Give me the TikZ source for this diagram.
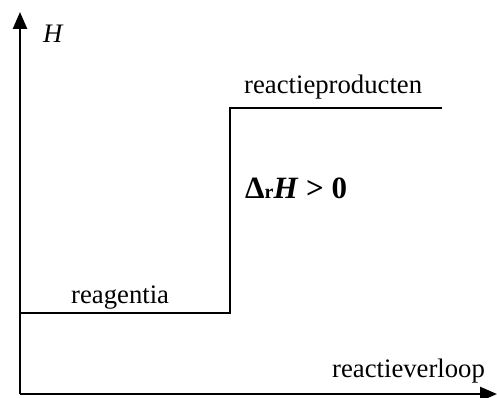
\documentclass[tikz,border=0pt]{standalone}
\usepackage{fontspec}
\setmainfont{Liberation Serif}
\usetikzlibrary{arrows.meta}
\begin{document}
\begin{tikzpicture}[x=1pt,y=1pt,
  axis/.style={line width=2.6pt,-{Triangle[length=17pt,width=14pt]}},
  level/.style={line width=1.8pt},
  lbl/.style={anchor=base west,inner sep=0pt,font=\fontsize{26.7}{32}\selectfont}]
\useasboundingbox (0,0) rectangle (497,397);
\coordinate (O) at (20,3);
\coordinate (Ytip) at (20,385);
\coordinate (Xtip) at (497,3);
\draw[axis] (O) -- (Ytip);
\draw[axis] (O) -- (Xtip);
\coordinate (A) at (20,84);
\coordinate (B) at (230,84);
\coordinate (C) at (230,289);
\coordinate (D) at (442,289);
\draw[level] (A) -- (B) -- (C) -- (D);
\node[lbl] (h) at (43,354) {\itshape H};
\node[lbl] (prod) at (244,304) {reactieproducten};
\node[lbl] (reag) at (71,94) {reagentia};
\node[lbl] (verl) at (332,20) {reactieverloop};
\node[lbl,font=\fontsize{31}{34}\selectfont\bfseries] (dh) at (245,199) {Δ{\fontsize{20}{22}\selectfont r}\textit{H} > 0};
\end{tikzpicture}
\end{document}
